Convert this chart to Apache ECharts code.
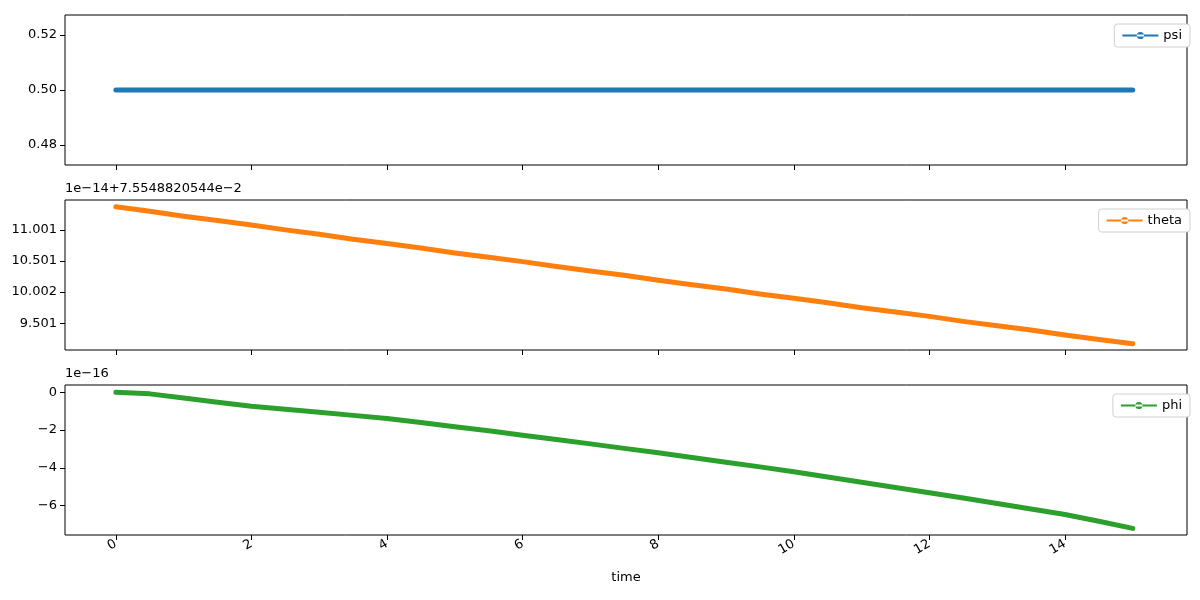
<!DOCTYPE html>
<html>
<head>
<meta charset="utf-8">
<script src="https://cdn.jsdelivr.net/npm/echarts@6/dist/echarts.min.js"></script>
<style>html,body{margin:0;background:#fff}#c{width:1200px;height:600px}</style>
</head>
<body>
<div id="c"></div>
<script>
// time samples (read every 0.5)
const time = [0,0.5,1,1.5,2,2.5,3,3.5,4,4.5,5,5.5,6,6.5,7,7.5,8,8.5,9,9.5,10,10.5,11,11.5,12,12.5,13,13.5,14,14.5,15];
const psi = [0.5,0.5,0.5,0.5,0.5,0.5,0.5,0.5,0.5,0.5,0.5,0.5,0.5,0.5,0.5,0.5,0.5,0.5,0.5,0.5,0.5,0.5,0.5,0.5,0.5,0.5,0.5,0.5,0.5,0.5,0.5];
// theta in units of 1e-14, offset 7.5548820544e-2
const theta = [11.37,11.30,11.22,11.15,11.08,11.00,10.93,10.85,10.78,10.71,10.63,10.56,10.49,10.41,10.34,10.27,10.19,10.12,10.05,9.97,9.90,9.83,9.75,9.68,9.61,9.53,9.46,9.39,9.31,9.24,9.17];
// phi in units of 1e-16
const phi = [0,-0.08,-0.3,-0.52,-0.74,-0.9,-1.06,-1.22,-1.38,-1.6,-1.82,-2.04,-2.27,-2.5,-2.73,-2.97,-3.2,-3.45,-3.7,-3.95,-4.21,-4.49,-4.76,-5.04,-5.32,-5.6,-5.89,-6.18,-6.47,-6.83,-7.21];
const xTicks = [0,2,4,6,8,10,12,14];
const psiTicks = [0.48,0.5,0.52];
const thetaTicks = [9.501,10.002,10.501,11.001];
const phiTicks = [-6,-4,-2,0];

const names = ['psi','theta','phi'];
const colors = ['#1f77b4','#ff7f0e','#2ca02c'];
const values = [psi, theta, phi];
const tops = [15,200,385];
const legendIcon = 'path://M0,9h40v2h-40z M20,6a4,4 0 1,0 0.01,0z';

const chart = echarts.init(document.getElementById('c'));
const txt = {color:'#000', fontSize:13, fontFamily:'DejaVu Sans'};

chart.setOption({
  animation:false,
  grid: tops.map(t => ({left:65, right:13, top:t, height:150, show:true, borderColor:'#000', borderWidth:1})),
  xAxis: [0,1,2].map(i => ({
    type:'value', gridIndex:i, min:-0.75, max:15.8,
    axisLine:{show:false, onZero:false}, splitLine:{show:false},
    axisTick:{show:true, customValues:xTicks, length:5, lineStyle:{color:'#000'}},
    axisLabel:{show:i===2, customValues:xTicks, rotate:30, margin:8, ...txt},
    name: i===2 ? 'time' : '', nameLocation:'middle', nameGap:36, nameTextStyle:txt
  })),
  yAxis: [
    {min:0.4727, max:0.5273, ticks:psiTicks, fmt:v=>v.toFixed(2)},
    {min:9.07, max:11.48, ticks:thetaTicks, fmt:v=>v.toFixed(3)},
    {min:-7.56, max:0.39, ticks:phiTicks, fmt:v=>String(v).replace('-','\u2212')}
  ].map((a,i) => ({
    type:'value', gridIndex:i, min:a.min, max:a.max, scale:true,
    axisLine:{show:false, onZero:false}, splitLine:{show:false},
    axisTick:{show:true, customValues:a.ticks, length:5, lineStyle:{color:'#000'}},
    axisLabel:{customValues:a.ticks, formatter:a.fmt, margin:8, ...txt}
  })),
  legend: names.map((n,i) => ({
    data:[{name:n, icon:legendIcon, itemStyle:{color:colors[i], borderWidth:0}}], right:10, top:tops[i]+9,
    itemWidth:36, itemHeight:10, padding:[5,8], itemGap:0,
    borderColor:'#d0d0d0', borderWidth:1, borderRadius:3, backgroundColor:'#fff',
    textStyle:txt
  })),
  series: names.map((n,i) => ({
    name:n, type:'line', xAxisIndex:i, yAxisIndex:i,
    data: time.map((t,k) => [t, values[i][k]]),
    color:colors[i], showSymbol:false, symbol:'circle',
    lineStyle:{width:5, cap:'round', join:'round'}
  })),
  graphic: [
    {type:'text', left:65, top:182, style:{text:'1e\u221214+7.5548820544e\u22122', fill:'#000', font:'13px DejaVu Sans'}},
    {type:'text', left:65, top:367, style:{text:'1e\u221216', fill:'#000', font:'13px DejaVu Sans'}}
  ]
});
</script>
</body>
</html>
